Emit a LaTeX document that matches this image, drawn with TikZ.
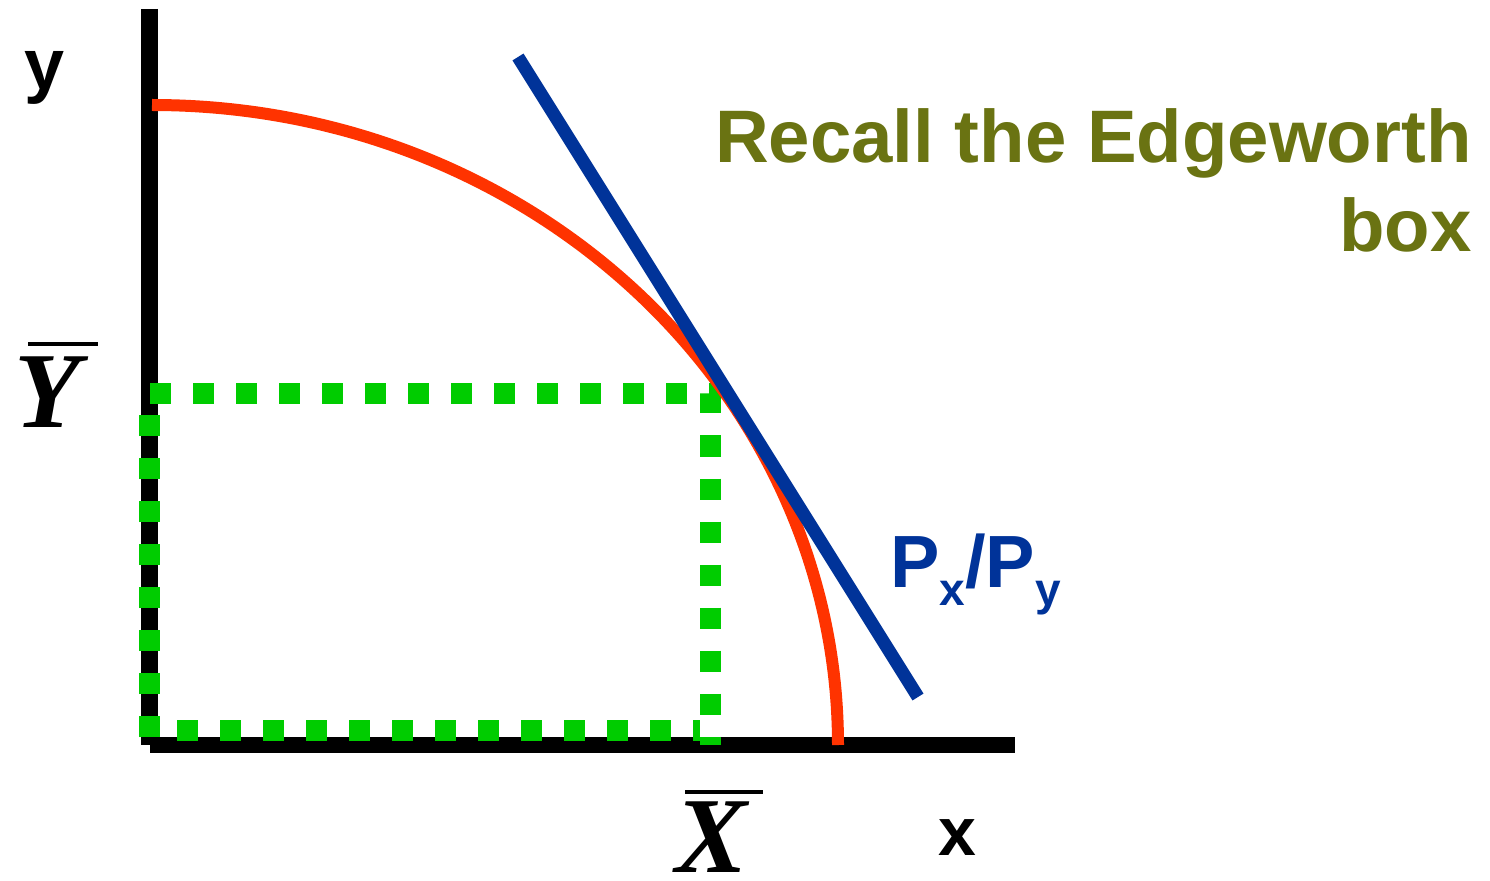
\documentclass[tikz,border=0pt]{standalone}
\usepackage{fontspec}
\setmainfont{Liberation Sans}
\newfontfamily\timesfont{Liberation Serif}
\usetikzlibrary{positioning}
\definecolor{curvared}{HTML}{FF3300}
\definecolor{priceblue}{HTML}{003399}
\definecolor{dotgreen}{HTML}{00CC00}
\definecolor{olivetext}{HTML}{6A7312}
\tikzset{
    axisline/.style={line width=8.3pt},
    greendots/.style={dotgreen,line width=10.5pt,dash pattern=on 10.5pt off 11pt},
    barlabel/.style={inner sep=0pt,font=\timesfont\bfseries\itshape\fontsize{54}{54}\selectfont},
    barline/.style={line width=1.6pt}
}

\begin{document}
\begin{tikzpicture}[x=0.5pt,y=0.5pt,line cap=butt,line join=miter]
    \useasboundingbox (0,0) rectangle (1490,880);
    % axes
    \draw[axisline] (149.5,871) -- (149.5,135);
    \draw[axisline] (150,135) -- (1015,135);
    % dotted box
    \draw[greendots] (149.5,143) -- (149.5,486.5) -- (710,486.5) -- (710,135);
    \draw[greendots] (177,150) -- (700,150);
    % production frontier and price line
    \draw[curvared,line width=6pt] (152,775) arc[start angle=90,end angle=0,x radius=686,y radius=640];
    \draw[priceblue,line width=6.5pt] (518,823) -- (918,183);
    % labels
    \node[font=\bfseries\fontsize{36}{36}\selectfont,inner sep=0pt] (ylab) at (45,802) {y};
    \node[font=\bfseries\fontsize{34}{34}\selectfont,inner sep=0pt] (xlab) at (957,42) {x};
    \node[barlabel] (ybar) at (47.5,487.5) {Y};
    \draw[barline] (28,536) -- (98,536);
    \node[barlabel] (xbar) at (711.5,42.5) {X};
    \draw[barline] (685,88) -- (763,88);
    \node[olivetext,font=\bfseries\fontsize{37.2}{37.2}\selectfont,inner sep=0pt,anchor=base east] (recall) at (1472,717) {Recall the Edgeworth};
    \node[olivetext,font=\bfseries\fontsize{37.2}{37.2}\selectfont,inner sep=0pt,anchor=base east] (box) at (1472,628) {box};
    \node[priceblue,font=\bfseries\fontsize{37}{37}\selectfont,inner sep=0pt,anchor=base west] (ratio) at (890,293)
        {P\raisebox{-9pt}{\fontsize{23}{23}\selectfont x}/P\raisebox{-9pt}{\fontsize{23}{23}\selectfont y}};
\end{tikzpicture}
\end{document}
